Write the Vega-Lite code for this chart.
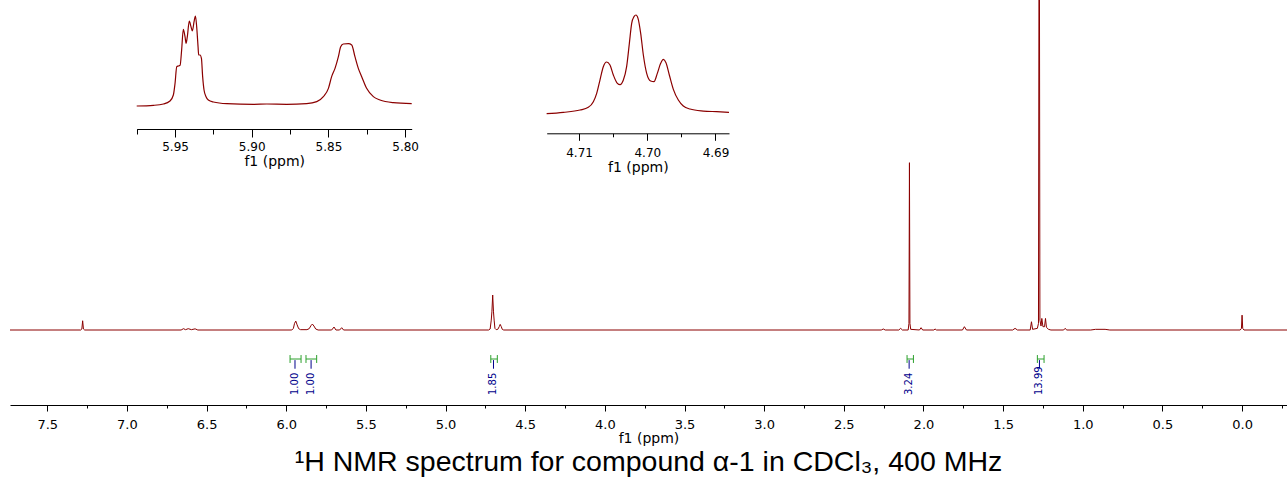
{
  "$schema": "https://vega.github.io/schema/vega-lite/v6.json",
  "width": 1277,
  "height": 405,
  "autosize": {"type": "none"},
  "padding": {"left": 10, "top": 0, "right": 0, "bottom": 79},
  "background": "white",
  "config": {"view": {"stroke": null}},
  "title": {
    "text": "¹H NMR spectrum for compound α-1 in CDCl₃, 400 MHz",
    "orient": "bottom",
    "anchor": "middle",
    "font": "Liberation Sans",
    "fontSize": 28.5,
    "fontWeight": "normal",
    "color": "black",
    "offset": 3
  },
  "datasets": {
    "main": [
      {"ppm": 7.734, "i": 0}, {"ppm": 7.29, "i": 0}, {"ppm": 7.283, "i": 0.3}, {"ppm": 7.278, "i": 2.8}, {"ppm": 7.273, "i": 0.3}, {"ppm": 7.265, "i": 0},
      {"ppm": 6.66, "i": 0}, {"ppm": 6.645, "i": 0.4}, {"ppm": 6.632, "i": 0.1}, {"ppm": 6.615, "i": 0.4}, {"ppm": 6.595, "i": 0.1}, {"ppm": 6.572, "i": 0.35}, {"ppm": 6.555, "i": 0},
      {"ppm": 5.965, "i": 0}, {"ppm": 5.955, "i": 0.5}, {"ppm": 5.948, "i": 2.0}, {"ppm": 5.94, "i": 2.7}, {"ppm": 5.932, "i": 1.6}, {"ppm": 5.922, "i": 0.4}, {"ppm": 5.91, "i": 0.1},
      {"ppm": 5.87, "i": 0.1}, {"ppm": 5.856, "i": 0.4}, {"ppm": 5.845, "i": 1.3}, {"ppm": 5.836, "i": 1.8}, {"ppm": 5.826, "i": 1.2}, {"ppm": 5.815, "i": 0.3}, {"ppm": 5.8, "i": 0},
      {"ppm": 5.715, "i": 0}, {"ppm": 5.7, "i": 0.9}, {"ppm": 5.688, "i": 0}, {"ppm": 5.665, "i": 0}, {"ppm": 5.652, "i": 0.7}, {"ppm": 5.64, "i": 0},
      {"ppm": 4.73, "i": 0}, {"ppm": 4.72, "i": 0.3}, {"ppm": 4.713, "i": 3}, {"ppm": 4.709, "i": 5.5}, {"ppm": 4.704, "i": 10.6}, {"ppm": 4.699, "i": 5.5}, {"ppm": 4.695, "i": 3}, {"ppm": 4.69, "i": 0.5}, {"ppm": 4.682, "i": 0.1},
      {"ppm": 4.672, "i": 0.2}, {"ppm": 4.663, "i": 1.0}, {"ppm": 4.657, "i": 1.7}, {"ppm": 4.65, "i": 1.0}, {"ppm": 4.644, "i": 0.2}, {"ppm": 4.635, "i": 0},
      {"ppm": 2.265, "i": 0}, {"ppm": 2.252, "i": 0.3}, {"ppm": 2.24, "i": 0},
      {"ppm": 2.155, "i": 0}, {"ppm": 2.143, "i": 0.5}, {"ppm": 2.132, "i": 0},
      {"ppm": 2.096, "i": 0}, {"ppm": 2.091, "i": 2}, {"ppm": 2.088, "i": 50.7}, {"ppm": 2.085, "i": 2}, {"ppm": 2.08, "i": 0.2},
      {"ppm": 2.025, "i": 0}, {"ppm": 2.015, "i": 0.7}, {"ppm": 2.005, "i": 0},
      {"ppm": 1.935, "i": 0}, {"ppm": 1.927, "i": 0.3}, {"ppm": 1.918, "i": 0},
      {"ppm": 1.755, "i": 0}, {"ppm": 1.743, "i": 1.0}, {"ppm": 1.73, "i": 0},
      {"ppm": 1.44, "i": 0}, {"ppm": 1.425, "i": 0.5}, {"ppm": 1.41, "i": 0},
      {"ppm": 1.33, "i": 0}, {"ppm": 1.322, "i": 2.5}, {"ppm": 1.315, "i": 0.2},
      {"ppm": 1.285, "i": 0.5}, {"ppm": 1.278, "i": 2}, {"ppm": 1.2735, "i": 160}, {"ppm": 1.269, "i": 3}, {"ppm": 1.262, "i": 1.2}, {"ppm": 1.257, "i": 3.5}, {"ppm": 1.25, "i": 1.0},
      {"ppm": 1.24, "i": 1.0}, {"ppm": 1.234, "i": 3.5}, {"ppm": 1.228, "i": 0.8}, {"ppm": 1.215, "i": 0.2}, {"ppm": 1.2, "i": 0},
      {"ppm": 1.12, "i": 0}, {"ppm": 1.111, "i": 0.5}, {"ppm": 1.1, "i": 0},
      {"ppm": 0.95, "i": 0}, {"ppm": 0.92, "i": 0.2}, {"ppm": 0.86, "i": 0.2}, {"ppm": 0.83, "i": 0},
      {"ppm": 0.012, "i": 0}, {"ppm": 0.004, "i": 0.5}, {"ppm": 0.0, "i": 4.5}, {"ppm": -0.004, "i": 0.5}, {"ppm": -0.012, "i": 0},
      {"ppm": -0.282, "i": 0}
    ],
    "inset1": [
      {"ppm": 5.975, "i": 0}, {"ppm": 5.9641, "i": 2}, {"ppm": 5.9576, "i": 6}, {"ppm": 5.9533, "i": 15}, {"ppm": 5.9511, "i": 33}, {"ppm": 5.95, "i": 68},
      {"ppm": 5.9489, "i": 118}, {"ppm": 5.9478, "i": 120}, {"ppm": 5.9467, "i": 122}, {"ppm": 5.9457, "i": 168}, {"ppm": 5.9446, "i": 230}, {"ppm": 5.9435, "i": 208},
      {"ppm": 5.9428, "i": 188}, {"ppm": 5.942, "i": 208}, {"ppm": 5.9407, "i": 255}, {"ppm": 5.9396, "i": 238}, {"ppm": 5.9387, "i": 225}, {"ppm": 5.9376, "i": 253},
      {"ppm": 5.9367, "i": 270}, {"ppm": 5.9359, "i": 238}, {"ppm": 5.935, "i": 178}, {"ppm": 5.9346, "i": 153}, {"ppm": 5.9337, "i": 153}, {"ppm": 5.9328, "i": 143},
      {"ppm": 5.932, "i": 88}, {"ppm": 5.9311, "i": 48}, {"ppm": 5.9298, "i": 28}, {"ppm": 5.9283, "i": 18}, {"ppm": 5.925, "i": 12}, {"ppm": 5.9163, "i": 7},
      {"ppm": 5.8989, "i": 5}, {"ppm": 5.8902, "i": 6}, {"ppm": 5.8772, "i": 5}, {"ppm": 5.8642, "i": 7}, {"ppm": 5.8576, "i": 13}, {"ppm": 5.8533, "i": 28},
      {"ppm": 5.85, "i": 53}, {"ppm": 5.8479, "i": 88}, {"ppm": 5.8457, "i": 113}, {"ppm": 5.8435, "i": 148}, {"ppm": 5.842, "i": 178}, {"ppm": 5.8403, "i": 186},
      {"ppm": 5.837, "i": 187}, {"ppm": 5.8348, "i": 183}, {"ppm": 5.8327, "i": 148}, {"ppm": 5.8305, "i": 113}, {"ppm": 5.8283, "i": 88}, {"ppm": 5.8251, "i": 53},
      {"ppm": 5.8207, "i": 28}, {"ppm": 5.8164, "i": 18}, {"ppm": 5.8077, "i": 10}, {"ppm": 5.7957, "i": 7}
    ],
    "inset2": [
      {"ppm": 4.71476, "i": 0}, {"ppm": 4.71231, "i": 4}, {"ppm": 4.70987, "i": 11}, {"ppm": 4.70865, "i": 19}, {"ppm": 4.70791, "i": 36}, {"ppm": 4.70742, "i": 61},
      {"ppm": 4.70694, "i": 101}, {"ppm": 4.70645, "i": 141}, {"ppm": 4.70596, "i": 155}, {"ppm": 4.70547, "i": 146}, {"ppm": 4.70498, "i": 116}, {"ppm": 4.70439, "i": 91},
      {"ppm": 4.704, "i": 87}, {"ppm": 4.70351, "i": 101}, {"ppm": 4.70303, "i": 141}, {"ppm": 4.70263, "i": 211}, {"ppm": 4.70229, "i": 271}, {"ppm": 4.70195, "i": 291},
      {"ppm": 4.70166, "i": 296}, {"ppm": 4.70136, "i": 286}, {"ppm": 4.70097, "i": 241}, {"ppm": 4.70058, "i": 176}, {"ppm": 4.70009, "i": 121}, {"ppm": 4.69951, "i": 98},
      {"ppm": 4.69902, "i": 96}, {"ppm": 4.69853, "i": 121}, {"ppm": 4.69804, "i": 151}, {"ppm": 4.69765, "i": 163}, {"ppm": 4.69726, "i": 153}, {"ppm": 4.69677, "i": 116},
      {"ppm": 4.69618, "i": 73}, {"ppm": 4.69545, "i": 41}, {"ppm": 4.69472, "i": 23}, {"ppm": 4.69374, "i": 14}, {"ppm": 4.69178, "i": 8}, {"ppm": 4.68983, "i": 6},
      {"ppm": 4.68802, "i": 4}
    ],
    "integrals": [
      {"from": 5.976, "to": 5.907, "at": 5.945, "value": "1.00"},
      {"from": 5.876, "to": 5.809, "at": 5.844, "value": "1.00"},
      {"from": 4.716, "to": 4.675, "at": 4.699, "value": "1.85"},
      {"from": 2.103, "to": 2.063, "at": 2.09, "value": "3.24"},
      {"from": 1.285, "to": 1.243, "at": 1.272, "value": "13.99"}
    ]
  },
  "resolve": {
    "scale": {"x": "independent", "y": "independent"},
    "axis": {"x": "independent", "y": "independent"}
  },
  "layer": [
    {
      "data": {"name": "main"},
      "mark": {"type": "line", "color": "#8b0000", "strokeWidth": 1, "clip": false},
      "encoding": {
        "x": {
          "field": "ppm", "type": "quantitative",
          "scale": {"domain": [7.734, -0.282], "range": [0, 1277], "nice": false, "zero": false},
          "axis": {
            "orient": "bottom",
            "title": "f1 (ppm)",
            "values": [7.5, 7.25, 7.0, 6.75, 6.5, 6.25, 6.0, 5.75, 5.5, 5.25, 5.0, 4.75, 4.5, 4.25, 4.0, 3.75, 3.5, 3.25, 3.0, 2.75, 2.5, 2.25, 2.0, 1.75, 1.5, 1.25, 1.0, 0.75, 0.5, 0.25, 0.0, -0.25],
            "labelExpr": "abs(datum.value*2 - round(datum.value*2)) < 0.001 ? format(datum.value, '.1f') : ''",
            "tickSize": {"condition": {"test": "abs(datum.value*2 - round(datum.value*2)) < 0.001", "value": 6}, "value": 3},
            "grid": false,
            "domainColor": "black", "tickColor": "black", "labelColor": "black", "titleColor": "black",
            "labelFont": "DejaVu Sans", "labelFontSize": 13,
            "titleFont": "DejaVu Sans", "titleFontSize": 14, "titleFontWeight": "normal",
            "labelFlush": false, "labelOverlap": false, "labelPadding": 7, "titlePadding": 0
          }
        },
        "y": {
          "field": "i", "type": "quantitative",
          "scale": {"domain": [0, 100], "range": [330, 0], "nice": false, "zero": false},
          "axis": null
        }
      }
    },
    {
      "data": {"name": "inset1"},
      "mark": {"type": "line", "color": "#8b0000", "strokeWidth": 1.2, "interpolate": "monotone", "clip": false},
      "encoding": {
        "x": {
          "field": "ppm", "type": "quantitative",
          "scale": {"domain": [5.975, 5.7957], "range": [126.7, 401.7], "nice": false, "zero": false},
          "axis": {
            "orient": "bottom",
            "offset": -276,
            "title": "f1 (ppm)",
            "values": [5.975, 5.95, 5.925, 5.9, 5.875, 5.85, 5.825, 5.8],
            "labelExpr": "abs(datum.value*20 - round(datum.value*20)) < 0.001 ? format(datum.value, '.2f') : ''",
            "tickSize": {"condition": {"test": "abs(datum.value*20 - round(datum.value*20)) < 0.001", "value": 8}, "value": 5},
            "grid": false,
            "domainColor": "black", "tickColor": "black", "labelColor": "black", "titleColor": "black",
            "labelFont": "DejaVu Sans", "labelFontSize": 12,
            "titleFont": "DejaVu Sans", "titleFontSize": 14, "titleFontWeight": "normal",
            "labelFlush": false, "labelOverlap": false, "labelPadding": 4, "titlePadding": 2
          }
        },
        "y": {
          "field": "i", "type": "quantitative",
          "scale": {"domain": [0, 270], "range": [106, 16], "nice": false, "zero": false},
          "axis": null
        }
      }
    },
    {
      "data": {"name": "inset2"},
      "mark": {"type": "line", "color": "#8b0000", "strokeWidth": 1.2, "interpolate": "monotone", "clip": false},
      "encoding": {
        "x": {
          "field": "ppm", "type": "quantitative",
          "scale": {"domain": [4.71475, 4.68802], "range": [536.7, 719], "nice": false, "zero": false},
          "axis": {
            "orient": "bottom",
            "offset": -271.7,
            "title": "f1 (ppm)",
            "values": [4.71, 4.705, 4.7, 4.695, 4.69],
            "labelExpr": "abs(datum.value*100 - round(datum.value*100)) < 0.001 ? format(datum.value, '.2f') : ''",
            "tickSize": {"condition": {"test": "abs(datum.value*100 - round(datum.value*100)) < 0.001", "value": 7}, "value": 3.5},
            "grid": false,
            "domainColor": "black", "tickColor": "black", "labelColor": "black", "titleColor": "black",
            "labelFont": "DejaVu Sans", "labelFontSize": 12,
            "titleFont": "DejaVu Sans", "titleFontSize": 14, "titleFontWeight": "normal",
            "labelFlush": false, "labelOverlap": false, "labelPadding": 7, "titlePadding": 2
          }
        },
        "y": {
          "field": "i", "type": "quantitative",
          "scale": {"domain": [0, 296], "range": [113.7, 15], "nice": false, "zero": false},
          "axis": null
        }
      }
    },
    {
      "data": {"name": "integrals"},
      "mark": {"type": "rule", "color": "#2ca02c", "strokeWidth": 1},
      "encoding": {
        "x": {"field": "from", "type": "quantitative", "scale": {"domain": [7.734, -0.282], "range": [0, 1277], "nice": false, "zero": false}, "axis": null},
        "x2": {"field": "to"},
        "y": {"datum": 0, "type": "quantitative", "scale": {"domain": [0, 1], "range": [359, 395], "nice": false, "zero": false}, "axis": null}
      }
    },
    {
      "data": {"name": "integrals"},
      "mark": {"type": "rule", "color": "#2ca02c", "strokeWidth": 1},
      "encoding": {
        "x": {"field": "from", "type": "quantitative", "scale": {"domain": [7.734, -0.282], "range": [0, 1277], "nice": false, "zero": false}, "axis": null},
        "y": {"datum": -0.11, "type": "quantitative", "scale": {"domain": [0, 1], "range": [359, 395], "nice": false, "zero": false}, "axis": null},
        "y2": {"datum": 0.11}
      }
    },
    {
      "data": {"name": "integrals"},
      "mark": {"type": "rule", "color": "#2ca02c", "strokeWidth": 1},
      "encoding": {
        "x": {"field": "to", "type": "quantitative", "scale": {"domain": [7.734, -0.282], "range": [0, 1277], "nice": false, "zero": false}, "axis": null},
        "y": {"datum": -0.11, "type": "quantitative", "scale": {"domain": [0, 1], "range": [359, 395], "nice": false, "zero": false}, "axis": null},
        "y2": {"datum": 0.11}
      }
    },
    {
      "data": {"name": "integrals"},
      "mark": {"type": "rule", "color": "#00008b", "strokeWidth": 1},
      "encoding": {
        "x": {"field": "at", "type": "quantitative", "scale": {"domain": [7.734, -0.282], "range": [0, 1277], "nice": false, "zero": false}, "axis": null},
        "y": {"datum": 0.03, "type": "quantitative", "scale": {"domain": [0, 1], "range": [359, 395], "nice": false, "zero": false}, "axis": null},
        "y2": {"datum": 0.27}
      }
    },
    {
      "data": {"name": "integrals"},
      "mark": {"type": "text", "color": "#00008b", "font": "DejaVu Sans", "fontSize": 10, "angle": 270, "align": "left", "baseline": "middle"},
      "encoding": {
        "x": {"field": "at", "type": "quantitative", "scale": {"domain": [7.734, -0.282], "range": [0, 1277], "nice": false, "zero": false}, "axis": null},
        "y": {"datum": 1, "type": "quantitative", "scale": {"domain": [0, 1], "range": [359, 395], "nice": false, "zero": false}, "axis": null},
        "text": {"field": "value"}
      }
    }
  ]
}
